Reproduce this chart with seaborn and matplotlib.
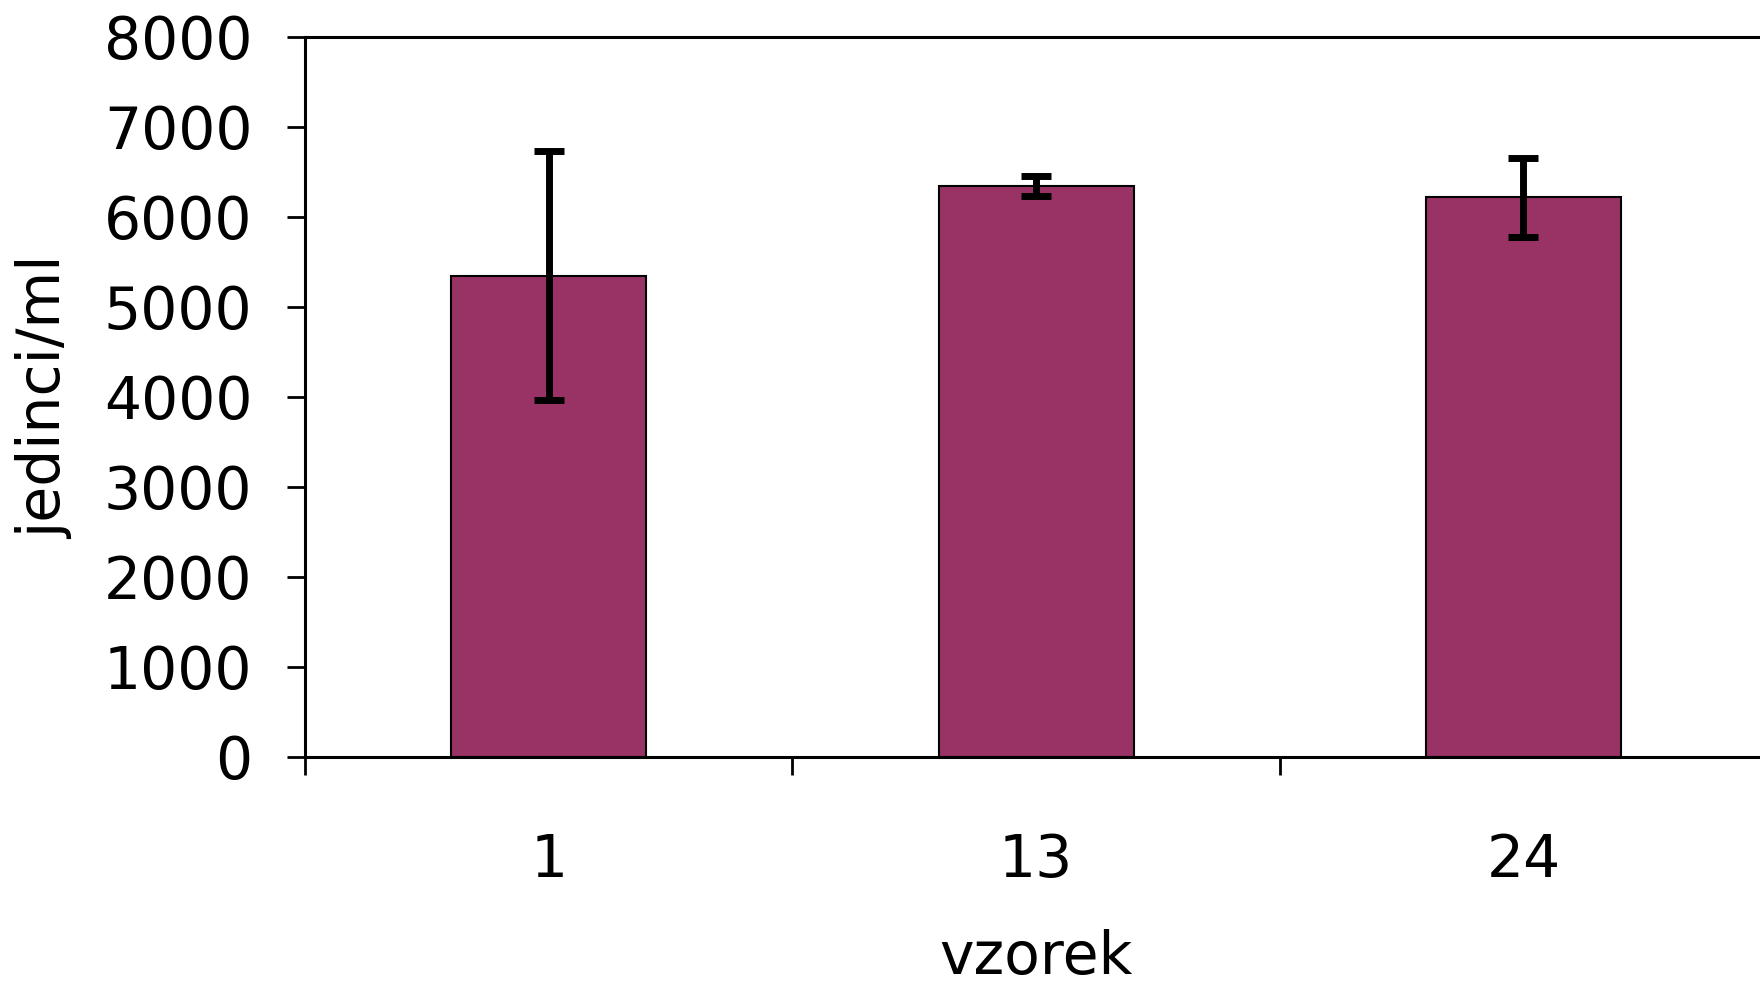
import matplotlib
matplotlib.use("Agg")
import matplotlib.pyplot as plt
import seaborn as sns
import pandas as pd
from matplotlib.ticker import FixedLocator

# data
samples = ["1", "13", "24"]
means = [5345, 6345, 6220]
errors = [1385, 115, 440]

df = pd.DataFrame({"vzorek": samples, "jedinci": means})

sns.set_theme(style="white")
plt.rcParams["font.family"] = ["DejaVu Sans"]
plt.rcParams.update({"text.color": "black", "axes.labelcolor": "black",
                     "xtick.color": "black", "ytick.color": "black"})

fig = plt.figure(figsize=(17.6, 9.89), dpi=100)
ax = fig.add_axes([0.1734, 0.235, 0.8306, 0.7276])

sns.barplot(data=df, x="vzorek", y="jedinci", color="#993366", width=0.4,
            edgecolor="black", linewidth=1.5, saturation=1, errorbar=None, ax=ax)
ax.errorbar(range(len(samples)), means, yerr=errors, fmt="none",
            ecolor="black", elinewidth=5, capsize=11, capthick=5, zorder=5)

ax.set_xlim(-0.5, 2.5)
ax.set_ylim(0, 8000)
ax.set_yticks(range(0, 8001, 1000))

# ticks at category boundaries, labels at centres
ax.xaxis.set_minor_locator(FixedLocator([-0.5, 0.5, 1.5, 2.5]))
ax.tick_params(axis="x", which="major", length=0, pad=54, labelsize=42)
ax.tick_params(axis="x", which="minor", bottom=True, direction="out",
               length=13, width=2, color="black")
ax.tick_params(axis="y", left=True, direction="out", length=13, width=2,
               color="black", pad=25, labelsize=42)

ax.set_xlabel("vzorek", fontsize=42, labelpad=29)
ax.set_ylabel("jedinci/ml", fontsize=42, labelpad=22)

for name in ["left", "bottom", "top", "right"]:
    ax.spines[name].set_visible(True)
    ax.spines[name].set_color("black")
    ax.spines[name].set_linewidth(2.2)

fig.savefig("out.png", dpi=100)
